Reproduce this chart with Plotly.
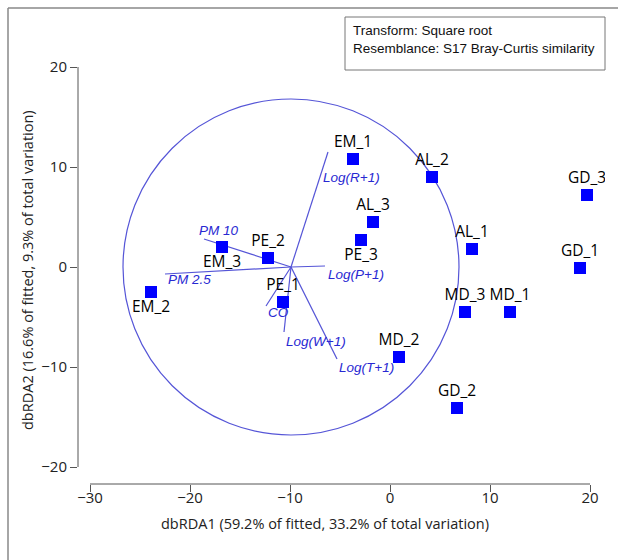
import plotly.graph_objects as go

# ---- data ----
sites = ["EM_1", "EM_2", "EM_3", "PE_1", "PE_2", "PE_3", "AL_1", "AL_2", "AL_3",
         "MD_1", "MD_2", "MD_3", "GD_1", "GD_2", "GD_3"]
site_x = [-3.7, -23.9, -16.8, -10.7, -12.2, -2.9, 8.2, 4.2, -1.7,
          12.0, 0.9, 7.5, 19.0, 6.7, 19.7]
site_y = [10.8, -2.5, 2.0, -3.5, 0.9, 2.7, 1.8, 9.0, 4.5,
          -4.5, -9.0, -4.5, -0.1, -14.1, 7.2]

variables = ["Log(R+1)", "PM 10", "PM 2.5", "Log(P+1)", "CO", "Log(W+1)", "Log(T+1)"]
var_x = [-6.2, -18.6, -22.5, -6.5, -12.4, -10.6, -5.3]
var_y = [11.5, 2.8, -0.7, 0.1, -3.9, -6.5, -9.2]
origin_x = -9.9
origin_y = 0.0
circle_radius = 16.8

x_ticks = [-30, -20, -10, 0, 10, 20]
y_ticks = [-20, -10, 0, 10, 20]

x_title = "dbRDA1 (59.2% of fitted, 33.2% of total variation)"
y_title = "dbRDA2 (16.6% of fitted, 9.3% of total variation)"
legend_lines = ["Transform: Square root", "Resemblance: S17 Bray-Curtis similarity"]

# ---- styling / placement ----
below = {"EM_2", "EM_3", "PE_3"}
site_textpos = ["bottom center" if s in below else "top center" for s in sites]
vec_label_shift = {  # (xshift, yshift) in px relative to vector tip
    "Log(R+1)": (-7, -25), "PM 10": (-7, 9), "PM 2.5": (1, -5), "Log(P+1)": (1, -8),
    "CO": (0, -6), "Log(W+1)": (0, -9), "Log(T+1)": (0, -8),
}
VEC_COLOR = "rgb(85,85,215)"
LBL_COLOR = "rgb(40,40,210)"
FONT = "Open Sans"

W, H = 618, 560
ML, MR, MT, MB = 78, 13, 55, 76
pw, ph = W - ML - MR, H - MT - MB


def px_to_paper_x(px):
    return (px - ML) / pw


def px_to_paper_y(py):
    return (H - MB - py) / ph


fig = go.Figure()

# vectors
lx, ly = [], []
for ex, ey in zip(var_x, var_y):
    lx += [origin_x, ex, None]
    ly += [origin_y, ey, None]
fig.add_trace(go.Scatter(x=lx, y=ly, mode="lines",
                         line=dict(color=VEC_COLOR, width=1.2),
                         hoverinfo="skip", showlegend=False))

# sites
fig.add_trace(go.Scatter(x=site_x, y=site_y, mode="markers+text", text=sites,
                         textposition=site_textpos,
                         textfont=dict(family=FONT, size=15.5, color="black"),
                         marker=dict(symbol="square", size=12, color="#0000FF"),
                         showlegend=False))

shapes = [
    # correlation circle
    dict(type="circle", xref="x", yref="y",
         x0=origin_x - circle_radius, x1=origin_x + circle_radius,
         y0=origin_y - circle_radius, y1=origin_y + circle_radius,
         line=dict(color=VEC_COLOR, width=1.2), layer="below"),
    # detached axis lines
    dict(type="line", xref="x", yref="paper", x0=x_ticks[0], x1=x_ticks[-1], y0=0, y1=0,
         line=dict(color="#555", width=1)),
    dict(type="line", xref="paper", yref="y", x0=0, x1=0, y0=y_ticks[0], y1=y_ticks[-1],
         line=dict(color="#555", width=1)),
    # outer frame
    dict(type="line", xref="paper", yref="paper", x0=px_to_paper_x(8), x1=px_to_paper_x(8),
         y0=px_to_paper_y(8), y1=px_to_paper_y(580), line=dict(color="#888", width=1.5)),
    dict(type="line", xref="paper", yref="paper", x0=px_to_paper_x(8), x1=px_to_paper_x(640),
         y0=px_to_paper_y(8), y1=px_to_paper_y(8), line=dict(color="#888", width=1.5)),
    # info box
    dict(type="rect", xref="paper", yref="paper", x0=px_to_paper_x(345), x1=px_to_paper_x(605),
         y0=px_to_paper_y(70), y1=px_to_paper_y(17), line=dict(color="#777", width=1),
         fillcolor="white"),
]

annotations = []
for name, ex, ey in zip(variables, var_x, var_y):
    dx, dy = vec_label_shift[name]
    annotations.append(dict(x=ex, y=ey, xref="x", yref="y", text=name, showarrow=False,
                            xanchor="left", yanchor="middle", xshift=dx, yshift=dy,
                            font=dict(family="Liberation Sans", size=13.5, color=LBL_COLOR,
                                      style="italic")))
for i, line in enumerate(legend_lines):
    annotations.append(dict(x=px_to_paper_x(351), y=px_to_paper_y(30 + 18 * i),
                            xref="paper", yref="paper", text=line, showarrow=False,
                            xanchor="left", yanchor="middle",
                            font=dict(family="Liberation Sans", size=13.5, color="#111")))
annotations.append(dict(x=px_to_paper_x(325), y=px_to_paper_y(523),
                        xref="paper", yref="paper", text=x_title, showarrow=False,
                        xanchor="center", yanchor="middle",
                        font=dict(family=FONT, size=14.5, color="#222")))
annotations.append(dict(x=px_to_paper_x(27), y=px_to_paper_y(270), xref="paper", yref="paper",
                        text=y_title, showarrow=False, textangle=-90,
                        xanchor="center", yanchor="middle",
                        font=dict(family=FONT, size=14.5, color="#222")))

fig.update_layout(
    width=W, height=H,
    margin=dict(l=ML, r=MR, t=MT, b=MB, autoexpand=False),
    paper_bgcolor="white", plot_bgcolor="white",
    shapes=shapes, annotations=annotations,
    xaxis=dict(range=[-31.2, 21.5], tickvals=x_ticks, ticks="outside", ticklen=7,
               tickcolor="#555", showline=False, showgrid=False, zeroline=False,
               ticklabelstandoff=-7, automargin=False,
               tickfont=dict(family=FONT, size=15, color="#222"), fixedrange=True),
    yaxis=dict(range=[-21.7, 21.2], tickvals=y_ticks, ticks="outside", ticklen=7,
               tickcolor="#555", showline=False, showgrid=False, zeroline=False,
               automargin=False,
               tickfont=dict(family=FONT, size=15, color="#222"), fixedrange=True),
)

fig.write_html("out.html", config={"displayModeBar": False},
               post_script="document.body.style.margin='0';document.body.style.overflow='hidden';")
